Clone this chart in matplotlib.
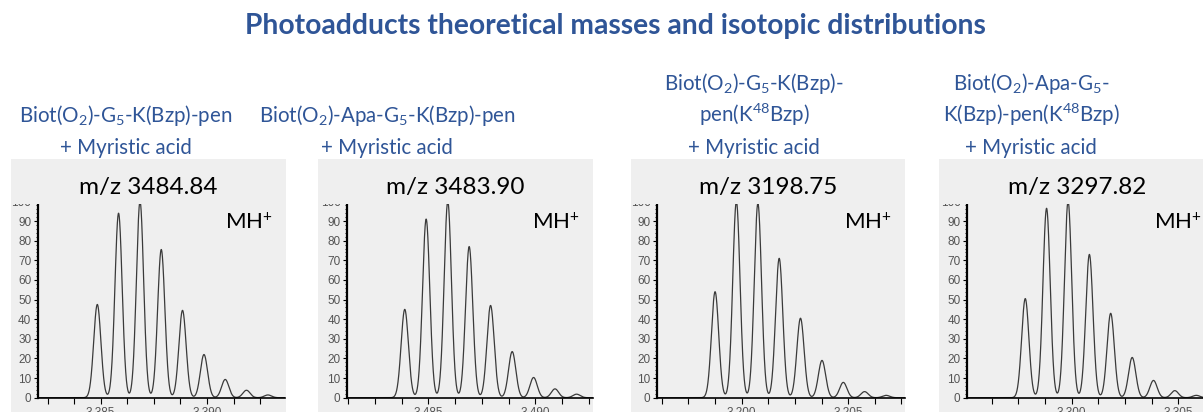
import numpy as np
import matplotlib
matplotlib.use("Agg")
import matplotlib.pyplot as plt
from matplotlib.patches import Rectangle
from matplotlib.ticker import MultipleLocator, FuncFormatter

plt.rcParams['font.family'] = ['Lato', 'DejaVu Sans']
plt.rcParams['mathtext.fontset'] = 'custom'
plt.rcParams['mathtext.rm'] = 'Lato'
plt.rcParams['mathtext.it'] = 'Lato:italic'
plt.rcParams['mathtext.bf'] = 'Lato:bold'

W, H = 1203, 412
BLUE = '#2F5597'
PANEL_BG = '#efefef'

title = "Photoadducts theoretical masses and isotopic distributions"

names = [
    [r"Biot($\mathrm{O}_2$)-$\mathrm{G}_5$-K(Bzp)-pen", "+ Myristic acid"],
    [r"Biot($\mathrm{O}_2$)-Apa-$\mathrm{G}_5$-K(Bzp)-pen", "+ Myristic acid"],
    [r"Biot($\mathrm{O}_2$)-$\mathrm{G}_5$-K(Bzp)-", r"pen($\mathrm{K}^{48}$Bzp)", "+ Myristic acid"],
    [r"Biot($\mathrm{O}_2$)-Apa-$\mathrm{G}_5$-", r"K(Bzp)-pen($\mathrm{K}^{48}$Bzp)", "+ Myristic acid"],
]
mz_headers = ["m/z 3484.84", "m/z 3483.90", "m/z 3198.75", "m/z 3297.82"]
ion_label = r"MH$^{+}$"

# centroid m/z of each isotope peak
mz_1 = [3384.84, 3385.84, 3386.85, 3387.85, 3388.85, 3389.86, 3390.86, 3391.86, 3392.87]
mz_2 = [3483.90, 3484.90, 3485.91, 3486.91, 3487.91, 3488.92, 3489.92, 3490.92, 3491.93]
mz_3 = [3198.75, 3199.75, 3200.76, 3201.76, 3202.76, 3203.77, 3204.77, 3205.77, 3206.78]
mz_4 = [3297.82, 3298.82, 3299.83, 3300.83, 3301.83, 3302.84, 3303.84, 3304.84, 3305.85]

# relative abundance (%) of each isotope peak
int_1 = [47.5, 94, 100, 75.5, 44.5, 22, 9.3, 3.8, 1.4]
int_2 = [45, 91, 100, 77, 47, 23.5, 10.3, 4.5, 1.8]
int_3 = [54, 100, 99, 71, 40.5, 19, 7.8, 3.1, 1.2]
int_4 = [50.5, 96.5, 100, 73, 43, 20.5, 8.8, 3.6, 1.2]

major_ticks = [(3385, 3390), (3485, 3490), (3200, 3205), (3300, 3305)]

peaks = [(mz_1, int_1), (mz_2, int_2), (mz_3, int_3), (mz_4, int_4)]

# layout in pixels: panel box left/right, axes left, reference tick pixel
box_lr = [(11, 285.7), (318, 593), (631, 905), (939, 1215)]
ax_left_px = [37.5, 346.7, 656.7, 966.7]
tick_px = [100.7, 428.3, 741.7, 1071.7]
px_per_unit = [21.25, 21.4, 21.3, 21.3]
label_cx = [125.5, 387, 754, 1031]

box_top, header_bottom = 159, 204.5
ax_bottom_px, ax_top_px = 397.7, 191.6
YMAX = 105

fig = plt.figure(figsize=(W / 100, H / 100), dpi=100)


def fx(x):
    return x / W


def fy(y):
    return 1 - y / H


fig.text(fx(615), fy(34), title, ha='center', va='baseline', color=BLUE,
         fontsize=20.3, fontweight='bold')

sigma = 0.17
for i in range(4):
    bl, br = box_lr[i]
    # full panel background (behind the axes)
    fig.add_artist(Rectangle((fx(bl), 0), fx(br) - fx(bl), fy(box_top),
                             transform=fig.transFigure, facecolor=PANEL_BG,
                             edgecolor='none', zorder=-1))
    # header strip (drawn over the top of the axes)
    fig.add_artist(Rectangle((fx(bl), fy(header_bottom)), fx(br) - fx(bl),
                             fy(box_top) - fy(header_bottom),
                             transform=fig.transFigure, facecolor=PANEL_BG,
                             edgecolor='none', zorder=5))
    fig.text(fx((bl + br) / 2), fy(193.5), mz_headers[i], ha='center',
             va='baseline', fontsize=17.5, color='black', zorder=6)

    # compound name lines
    lines = names[i]
    baselines = [122, 153.5] if len(lines) == 2 else [90.5, 122, 153.5]
    for txt, yb in zip(lines, baselines):
        fig.text(fx(label_cx[i]), fy(yb), txt, ha='center', va='baseline',
                 fontsize=14.8, color=BLUE)

    axl = ax_left_px[i]
    axr = br - 0.5
    ax = fig.add_axes([fx(axl), fy(ax_bottom_px), fx(axr) - fx(axl),
                       fy(ax_top_px) - fy(ax_bottom_px)])
    ax.set_facecolor('none')
    ppu = px_per_unit[i]
    x0 = major_ticks[i][0] - (tick_px[i] - axl) / ppu
    x1 = major_ticks[i][0] + (axr - tick_px[i]) / ppu
    ax.set_xlim(x0, x1)
    ax.set_ylim(0, YMAX)

    mz, inten = peaks[i]
    xs = np.linspace(x0, x1, 3000)
    ys = np.zeros_like(xs)
    for m, a in zip(mz, inten):
        ys += a * np.exp(-0.5 * ((xs - m) / sigma) ** 2)
    ax.plot(xs, ys, color='#3a3a3a', lw=0.9)

    for s in ('top', 'right'):
        ax.spines[s].set_visible(False)
    ax.spines['left'].set_linewidth(1.6)
    ax.spines['bottom'].set_linewidth(1.2)

    ax.yaxis.set_major_locator(MultipleLocator(10))
    ax.yaxis.set_minor_locator(MultipleLocator(2))
    ax.xaxis.set_major_locator(MultipleLocator(1.25))
    ax.xaxis.set_major_formatter(FuncFormatter(
        lambda v, p: f"{v:,.0f}" if abs(v / 5 - round(v / 5)) < 1e-6 else ""))
    ax.tick_params(axis='y', which='major', length=3, width=0.8,
                   labelsize=8.5, labelcolor='#555555', pad=1.5)
    ax.tick_params(axis='y', which='minor', length=1.5, width=0.6)
    ax.tick_params(axis='x', which='major', length=4, width=0.8,
                   labelsize=8.5, labelcolor='#555555', pad=2.5)
    for lab in ax.get_yticklabels() + ax.get_xticklabels():
        lab.set_family(['Liberation Sans', 'DejaVu Sans'])

    fig.text(fx(br - 61), fy(229), ion_label, ha='left', va='baseline',
             fontsize=16, color='black', zorder=6)

fig.savefig("out.png", dpi=100)
